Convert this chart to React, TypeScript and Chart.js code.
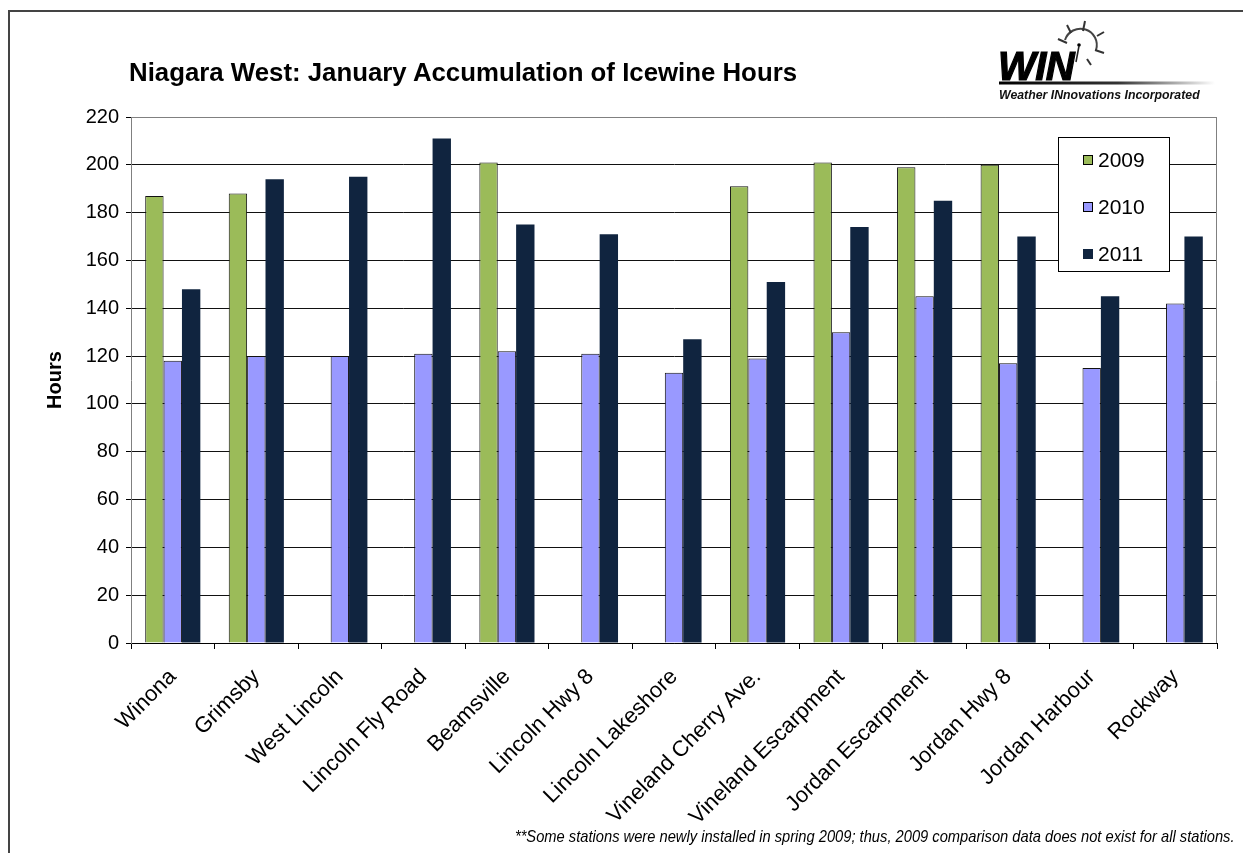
import React, { useEffect, useRef } from 'react';
import { Chart, registerables } from 'chart.js';

Chart.register(...registerables);

const categories = [
  'Winona',
  'Grimsby',
  'West Lincoln',
  'Lincoln Fly Road',
  'Beamsville',
  'Lincoln Hwy 8',
  'Lincoln Lakeshore',
  'Vineland Cherry Ave.',
  'Vineland Escarpment',
  'Jordan Escarpment',
  'Jordan Hwy 8',
  'Jordan Harbour',
  'Rockway',
];
const seriesNames = ['2009', '2010', '2011'];
const hours2009 = [187, 188, null, null, 201, null, null, 191, 201, 199, 200, null, null];
const hours2010 = [118, 120, 120, 121, 122, 121, 113, 119, 130, 145, 117, 115, 142];
const hours2011 = [148, 194, 195, 211, 175, 171, 127, 151, 174, 185, 170, 145, 170];
const yMin = 0;
const yMax = 220;
const yStep = 20;

const FONT = '"Liberation Sans", Arial, Helvetica, sans-serif';

const plotBorder = {
  id: 'plotBorder',
  beforeDatasetsDraw(chart: any) {
    const { ctx, chartArea } = chart;
    ctx.save();
    ctx.strokeStyle = '#808080';
    ctx.lineWidth = 1;
    ctx.beginPath();
    ctx.moveTo(Math.round(chartArea.left) + 0.5, Math.round(chartArea.top) + 0.5);
    ctx.lineTo(Math.round(chartArea.right) - 0.5, Math.round(chartArea.top) + 0.5);
    ctx.lineTo(Math.round(chartArea.right) - 0.5, Math.round(chartArea.bottom));
    ctx.stroke();
    ctx.restore();
  },
};

const insideLegend = {
  id: 'insideLegend',
  afterDraw(chart: any) {
    const { ctx, chartArea } = chart;
    const boxW = 111;
    const boxH = 134;
    const x = Math.round(chartArea.right) - 159;
    const y = Math.round(chartArea.top) + 20;
    ctx.save();
    ctx.fillStyle = '#ffffff';
    ctx.fillRect(x, y, boxW, boxH);
    ctx.strokeStyle = '#000000';
    ctx.lineWidth = 1;
    ctx.strokeRect(x + 0.5, y + 0.5, boxW, boxH);
    ctx.font = `21px ${FONT}`;
    ctx.textBaseline = 'middle';
    ctx.textAlign = 'left';
    chart.data.datasets.forEach((ds: any, i: number) => {
      const cy = y + 23 + i * 47;
      ctx.fillStyle = ds.backgroundColor;
      ctx.fillRect(x + 25, cy - 5, 10, 10);
      if (ds.borderWidth) {
        ctx.strokeStyle = '#000';
        ctx.strokeRect(x + 25.5, cy - 4.5, 9, 9);
      }
      ctx.fillStyle = '#000';
      ctx.fillText(ds.label, x + 40, cy + 1);
    });
    ctx.restore();
  },
};

export default function App() {
  const canvasRef = useRef<HTMLCanvasElement | null>(null);
  const noteRef = useRef<HTMLDivElement | null>(null);

  useEffect(() => {
    document.body.style.margin = '0';
    const note = noteRef.current;
    if (note) {
      const w = note.offsetWidth;
      if (w > 0) note.style.transform = `scaleX(${720 / w})`;
    }
    const canvas = canvasRef.current;
    if (!canvas) return;
    const chart = new Chart(canvas, {
      type: 'bar',
      data: {
        labels: categories,
        datasets: [
          {
            label: seriesNames[0],
            data: hours2009,
            backgroundColor: '#9BBB59',
            borderColor: '#111',
            borderWidth: 1,
          },
          {
            label: seriesNames[1],
            data: hours2010,
            backgroundColor: '#9999FF',
            borderColor: '#111',
            borderWidth: 1,
          },
          {
            label: seriesNames[2],
            data: hours2011,
            backgroundColor: '#10243F',
            borderColor: '#10243F',
            borderWidth: 0,
          },
        ],
      },
      options: {
        responsive: false,
        animation: false,
        devicePixelRatio: 1,
        layout: { padding: { left: 0, top: 117, right: 26, bottom: 0 } },
        datasets: {
          bar: { categoryPercentage: 0.66, barPercentage: 1.0 },
        },
        plugins: {
          legend: { display: false },
          tooltip: { enabled: false },
          title: { display: false },
        },
        scales: {
          x: {
            grid: {
              offset: true,
              drawOnChartArea: false,
              drawTicks: true,
              tickLength: 6,
              color: '#000',
            },
            border: { color: '#000', width: 1 },
            ticks: {
              autoSkip: false,
              maxRotation: 45,
              minRotation: 45,
              color: '#000',
              padding: 15,
              font: { family: FONT, size: 22 },
            },
            afterFit(scale: any) {
              scale.height = 210;
            },
          },
          y: {
            min: yMin,
            max: yMax,
            ticks: {
              stepSize: yStep,
              color: '#000',
              padding: 7,
              font: { family: FONT, size: 20 },
            },
            grid: {
              color: (c: any) => (c.tick && c.tick.value === yMax ? '#808080' : '#111'),
              tickColor: '#000',
              tickLength: 5,
              lineWidth: 1,
            },
            border: { color: '#808080', width: 1 },
            title: {
              display: true,
              text: 'Hours',
              color: '#000',
              font: { family: FONT, size: 20, weight: 'bold' },
              padding: { top: 43, bottom: 0 },
            },
            afterFit(scale: any) {
              scale.width = 131;
            },
          },
        },
      },
      plugins: [plotBorder, insideLegend],
    });
    return () => chart.destroy();
  }, []);

  return (
    <div style={{ position: 'relative', width: 1243, height: 853, overflow: 'hidden', background: '#fff', fontFamily: FONT }}>
      <canvas ref={canvasRef} width={1243} height={853} style={{ position: 'absolute', left: 0, top: 0, width: 1243, height: 853 }} />
      <div
        style={{
          position: 'absolute',
          left: 8,
          top: 10,
          width: 1400,
          height: 1000,
          borderLeft: '2px solid #444',
          borderTop: '2px solid #444',
          pointerEvents: 'none',
        }}
      />
      <div
        style={{
          position: 'absolute',
          left: 129,
          top: 60,
          fontSize: 25.8,
          lineHeight: 1,
          fontWeight: 'bold',
          whiteSpace: 'nowrap',
          color: '#000',
        }}
      >
        Niagara West: January Accumulation of Icewine Hours
      </div>
      {/* WIN logo */}
      <svg width={1243} height={120} style={{ position: 'absolute', left: 0, top: 0 }}>
        <defs>
          <linearGradient id="winLine" x1="0" x2="1" y1="0" y2="0">
            <stop offset="0" stopColor="#000" />
            <stop offset="0.55" stopColor="#333" />
            <stop offset="1" stopColor="#fff" />
          </linearGradient>
        </defs>
        <path d="M1065 40 A16 16 0 0 1 1096 50" fill="none" stroke="#444" strokeWidth={2} />
        <circle cx={1079} cy={45} r={1.8} fill="#000" />
        <line x1={1079} y1={46} x2={1076} y2={62} stroke="#222" strokeWidth={1.5} />
        <line x1={1067} y1={25} x2={1071} y2={33} stroke="#333" strokeWidth={2} />
        <line x1={1085} y1={21} x2={1083} y2={31} stroke="#333" strokeWidth={2} />
        <line x1={1097} y1={36} x2={1104} y2={32} stroke="#333" strokeWidth={2} />
        <line x1={1058} y1={39} x2={1067} y2={43} stroke="#333" strokeWidth={2} />
        <line x1={1095} y1={50} x2={1104} y2={53} stroke="#333" strokeWidth={2} />
        <line x1={1087} y1={59} x2={1091} y2={65} stroke="#333" strokeWidth={2} />
        <rect x={999} y={81.5} width={216} height={3} fill="url(#winLine)" />
      </svg>
      <div
        style={{
          position: 'absolute',
          left: 998,
          top: 46,
          fontSize: 40,
          lineHeight: 1,
          fontWeight: 'bold',
          fontStyle: 'italic',
          color: '#000',
          WebkitTextStroke: '1.2px #000',
          letterSpacing: -0.5,
        }}
      >
        WIN
      </div>
      <div
        style={{
          position: 'absolute',
          left: 999,
          top: 88.5,
          fontSize: 12.3,
          lineHeight: 1,
          fontWeight: 'bold',
          fontStyle: 'italic',
          color: '#111',
          whiteSpace: 'nowrap',
        }}
      >
        Weather INnovations Incorporated
      </div>
      <div
        ref={noteRef}
        style={{
          position: 'absolute',
          right: 8,
          top: 828,
          fontSize: 17,
          lineHeight: 1,
          fontStyle: 'italic',
          color: '#000',
          whiteSpace: 'nowrap',
          transformOrigin: 'right center',
        }}
      >
        **Some stations were newly installed in spring 2009; thus, 2009 comparison data does not exist for all stations.
      </div>
    </div>
  );
}
